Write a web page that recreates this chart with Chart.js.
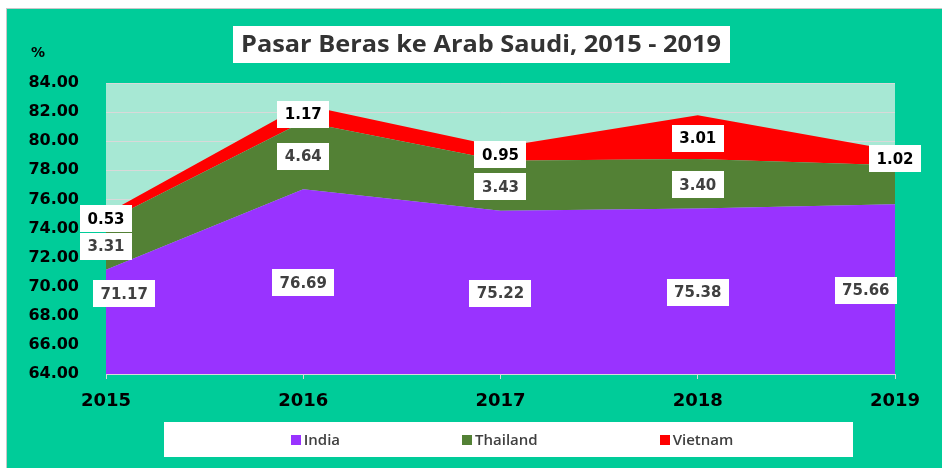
<!DOCTYPE html>
<html>
<head>
<meta charset="utf-8">
<script src="https://cdn.jsdelivr.net/npm/chart.js@4.4.1/dist/chart.umd.min.js"></script>
<style>
  html, body { margin: 0; padding: 0; background: #ffffff; }
  #wrap { width: 942px; height: 468px; position: relative; }
</style>
</head>
<body>
<div id="wrap"><canvas id="c"></canvas></div>
<script>
// ---- data ----
const years = ['2015', '2016', '2017', '2018', '2019'];
const seriesNames = ['India', 'Thailand', 'Vietnam'];
const india = [71.17, 76.69, 75.22, 75.38, 75.66];
const thailand = [3.31, 4.64, 3.43, 3.40, 2.68];
const vietnam = [0.53, 1.17, 0.95, 3.01, 1.02];
const indiaLabelShown = [true, true, true, true, true];
const thailandLabelShown = [true, true, true, true, false];
const vietnamLabelShown = [true, true, true, true, true];
const yMin = 64, yMax = 84, yStep = 2;
const titleText = 'Pasar Beras ke Arab Saudi, 2015 - 2019';
const unitText = '%';

const colors = ['#9933FF', '#538135', '#FF0000'];
const labelShown = [indiaLabelShown, thailandLabelShown, vietnamLabelShown];
const labelColors = ['#404040', '#404040', '#000000'];

const AXIS_FONT = '"DejaVu Sans", Verdana, sans-serif';

const framePlugin = {
  id: 'frame',
  beforeDraw(chart) {
    const ctx = chart.ctx, W = chart.width, H = chart.height;
    const a = chart.chartArea;
    ctx.save();
    ctx.fillStyle = '#ffffff';
    ctx.fillRect(0, 0, W, H);
    ctx.fillStyle = '#C8C8C8';
    ctx.fillRect(6, 8, W - 6, H - 8);
    ctx.fillStyle = '#00CC99';
    ctx.fillRect(7, 9, W - 7, H - 9);
    ctx.fillStyle = '#A7E8D4';
    ctx.fillRect(a.left, a.top, a.right - a.left, a.bottom - a.top);
    ctx.restore();
  },
  afterDraw(chart) {
    const ctx = chart.ctx;
    const a = chart.chartArea;
    const xs = chart.scales.x, ys = chart.scales.y;
    ctx.save();

    // ---- data labels ----
    const ds = chart.data.datasets;
    const n = chart.data.labels.length;
    const cum = new Array(n).fill(0);
    ctx.font = 'bold 15px ' + AXIS_FONT;
    ctx.textAlign = 'center';
    ctx.textBaseline = 'middle';
    ds.forEach((d, i) => {
      d.data.forEach((v, j) => {
        const lo = cum[j], hi = lo + v;
        cum[j] = hi;
        if (!labelShown[i][j]) return;
        let mid = (Math.max(lo, ys.min) + hi) / 2;
        // first-column label of the bottom series sits higher, clear of the others
        if (i === 0 && j === 0) mid += 2;
        const txt = v.toFixed(2);
        const tw = ctx.measureText(txt).width;
        const bw = tw + 15, bh = 27;
        let cx = xs.getPixelForValue(j);
        if (i === 0) {
          cx = Math.min(Math.max(cx, a.left + bw / 2 - 13), a.right - bw / 2 + 2);
        }
        const cy = ys.getPixelForValue(mid) + 1;
        ctx.fillStyle = '#ffffff';
        ctx.fillRect(Math.round(cx - bw / 2), Math.round(cy - bh / 2), Math.round(bw), bh);
        ctx.fillStyle = labelColors[i];
        ctx.fillText(txt, cx, cy + 1);
      });
    });

    // ---- title ----
    ctx.fillStyle = '#ffffff';
    ctx.fillRect(233, 26, 497, 37);
    ctx.font = 'bold 23px "Liberation Sans Narrow", "Open Sans", sans-serif';
    ctx.fillStyle = '#333333';
    ctx.textAlign = 'center';
    ctx.textBaseline = 'middle';
    const tw = ctx.measureText(titleText).width;
    const sx = 480 / tw;
    ctx.save();
    ctx.translate(481, 45);
    ctx.scale(sx, 1);
    ctx.fillText(titleText, 0, 0);
    ctx.restore();

    // ---- unit ----
    ctx.font = 'bold 14px ' + AXIS_FONT;
    ctx.fillStyle = '#000000';
    ctx.textAlign = 'center';
    ctx.fillText(unitText, 38, 53);

    // ---- legend ----
    ctx.fillStyle = '#ffffff';
    ctx.fillRect(164, 422, 689, 35);
    ctx.font = '600 15px "Open Sans", sans-serif';
    ctx.textAlign = 'left';
    ctx.textBaseline = 'middle';
    const box = 10, gapIn = 3, gapOut = 122;
    const widths = ds.map(d => box + gapIn + ctx.measureText(d.label).width);
    const total = widths.reduce((s, w) => s + w, 0) + gapOut * (ds.length - 1);
    let x = 512 - total / 2;
    const ly = 440;
    ds.forEach((d, i) => {
      ctx.fillStyle = d.backgroundColor;
      ctx.fillRect(Math.round(x), ly - 5, box, box);
      ctx.fillStyle = '#404040';
      ctx.fillText(d.label, x + box + gapIn, ly + 1);
      x += widths[i] + gapOut;
    });
    ctx.restore();
  }
};

const seriesData = [india, thailand, vietnam];
const datasets = seriesNames.map((name, i) => ({
  label: name,
  data: seriesData[i],
  backgroundColor: colors[i],
  borderColor: 'rgba(0,0,0,0)',
  borderWidth: 1,
  pointRadius: 0,
  pointHoverRadius: 0,
  tension: 0,
  fill: i === 0 ? 'start' : '-1'
}));

new Chart(document.getElementById('c'), {
  type: 'line',
  data: { labels: years, datasets },
  options: {
    responsive: true,
    maintainAspectRatio: false,
    animation: false,
    devicePixelRatio: 1,
    layout: { padding: { top: 83, right: 47, left: 0, bottom: 0 } },
    plugins: {
      legend: { display: false },
      title: { display: false },
      tooltip: { enabled: false }
    },
    scales: {
      x: {
        type: 'category',
        offset: false,
        grid: { display: true, drawOnChartArea: false, drawTicks: true, tickLength: 5, color: '#D9D9D9' },
        border: { display: true, color: '#D9D9D9', width: 1 },
        ticks: { color: '#000000', font: { family: AXIS_FONT, size: 18, weight: 'bold' }, padding: 12, maxRotation: 0 },
        afterFit(s) { s.height = 94; }
      },
      y: {
        stacked: true,
        min: yMin,
        max: yMax,
        grid: { color: '#D9D9D9', drawTicks: false },
        border: { display: false },
        ticks: {
          stepSize: yStep,
          color: '#000000',
          padding: 27,
          font: { family: AXIS_FONT, size: 16, weight: 'bold' },
          callback: v => Number(v).toFixed(2)
        },
        afterFit(s) { s.width = 106; }
      }
    }
  },
  plugins: [framePlugin]
});
</script>
</body>
</html>
